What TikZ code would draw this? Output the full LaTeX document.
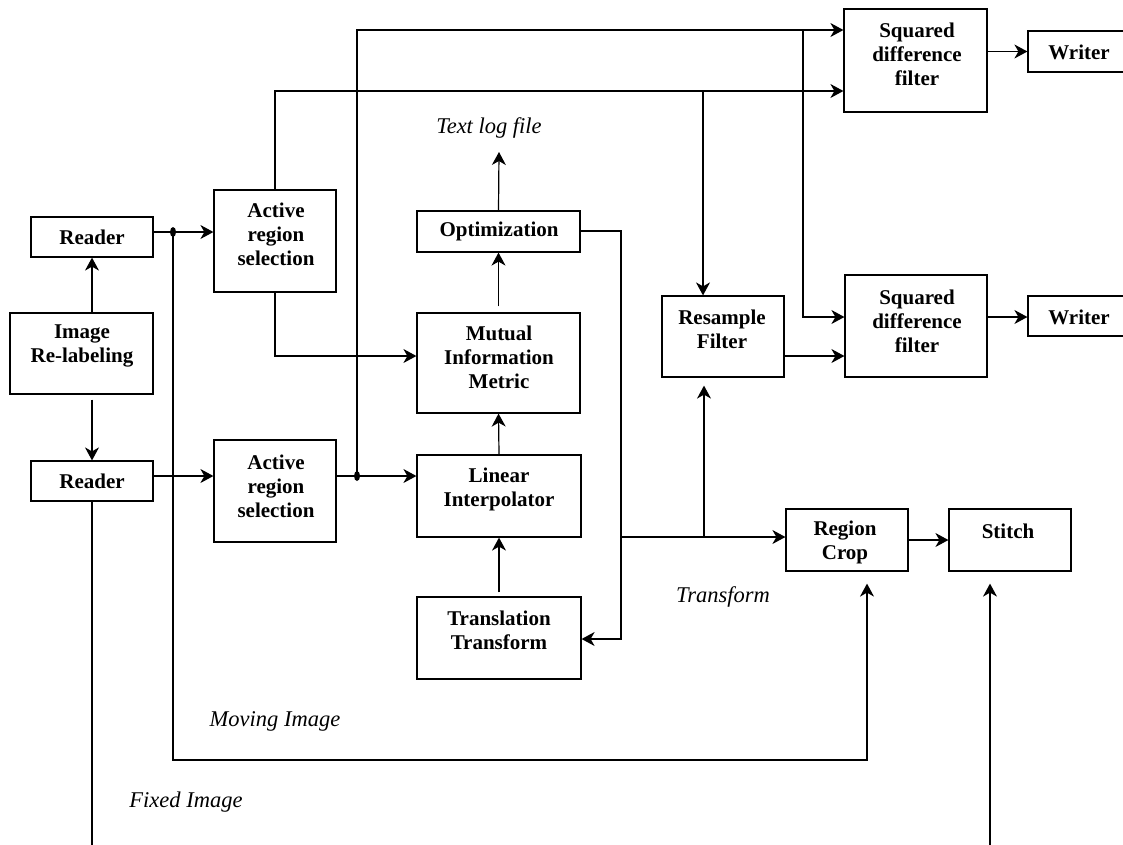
\documentclass[tikz,border=0pt]{standalone}
\usepackage{fontspec}
\setmainfont{Liberation Serif}
\usetikzlibrary{arrows.meta}
\begin{document}
\begin{tikzpicture}[x=1pt,y=-1pt,
  box/.style={draw,line width=1.2pt,rectangle,inner sep=0pt},
  lbl/.style={font=\fontsize{21}{24}\selectfont\bfseries,align=center,inner sep=0pt},
  note/.style={font=\fontsize{22.5}{26}\selectfont\itshape,inner sep=0pt},
  conn/.style={line width=1.2pt},
  arr/.style={conn,-{Stealth[length=13pt,width=14pt,inset=4pt]}}]
\useasboundingbox (0,0) rectangle (1123,844);
\clip (0,0) rectangle (1123,844);
% boxes
\node[box,minimum width=122pt,minimum height=40pt] (reader1) at (92,237) {};
\node[box,minimum width=143pt,minimum height=81pt] (relabel) at (81.5,353.5) {};
\node[box,minimum width=122pt,minimum height=40pt] (reader2) at (92,481) {};
\node[box,minimum width=122pt,minimum height=102pt] (active1) at (275,241) {};
\node[box,minimum width=122pt,minimum height=102pt] (active2) at (275,491) {};
\node[box,minimum width=163pt,minimum height=41pt] (opt) at (498.5,231.5) {};
\node[box,minimum width=163pt,minimum height=100pt] (mutual) at (498.5,363) {};
\node[box,minimum width=164pt,minimum height=82pt] (linear) at (499,496) {};
\node[box,minimum width=164pt,minimum height=82pt] (trans) at (499,638) {};
\node[box,minimum width=122pt,minimum height=81pt] (resample) at (723,336.5) {};
\node[box,minimum width=143pt,minimum height=103pt] (sq1) at (915.5,60.5) {};
\node[box,minimum width=142pt,minimum height=102pt] (sq2) at (916,326) {};
\node[box,minimum width=102pt,minimum height=41pt] (writer1) at (1079,51.5) {};
\node[box,minimum width=102pt,minimum height=40pt] (writer2) at (1079,316) {};
\node[box,minimum width=122pt,minimum height=62pt] (crop) at (847,540) {};
\node[box,minimum width=122pt,minimum height=62pt] (stitch) at (1010,540) {};
% box texts
\node[lbl] (reader1t) at (92,237) {Reader};
\node[lbl] (relabelt) at (82,346) {Image\\Re-labeling};
\node[lbl] (reader2t) at (92,481) {Reader};
\node[lbl] (active1t) at (276,234) {Active\\region\\selection};
\node[lbl] (active2t) at (276,486) {Active\\region\\selection};
\node[lbl] (optt) at (499,231) {Optimization};
\node[lbl] (mutualt) at (499,357) {Mutual\\Information\\Metric};
\node[lbl] (lineart) at (499,489) {Linear\\Interpolator};
\node[lbl] (transt) at (499,630) {Translation\\Transform};
\node[lbl] (resamplet) at (722,329) {Resample\\Filter};
\node[lbl] (sq1t) at (917,54) {Squared\\difference\\filter};
\node[lbl] (sq2t) at (917,321) {Squared\\difference\\filter};
\node[lbl] (writer1t) at (1079,52) {Writer};
\node[lbl] (writer2t) at (1079,317) {Writer};
\node[lbl] (cropt) at (845,542) {Region\\Crop};
\node[lbl] (stitcht) at (1008,531) {Stitch};
% notes
\node[note] (logt) at (489,128) {Text log file};
\node[note] (transformt) at (723,597) {Transform};
\node[note] (movingt) at (275,721) {Moving Image};
\node[note] (fixedt) at (186,802) {Fixed Image};
% helper coordinates
\coordinate (j1) at (173,232);
\coordinate (j2) at (357,476);
\coordinate (mv) at (867,760);
\coordinate (fixedend) at (92,846);
\coordinate (top1) at (357,30);
\coordinate (top2) at (275,91);
\coordinate (a1m) at (275,356);
\coordinate (rs) at (703,91);
\coordinate (v2) at (803,30);
\coordinate (v2b) at (803,317);
\coordinate (rsy) at (784,356);
\coordinate (logend) at (499,152);
\coordinate (fb) at (621,231);
\coordinate (fbl) at (621,639);
\coordinate (tr) at (621,537);
\coordinate (up) at (704,537);
\coordinate (stin) at (990,846);
% connectors
\draw[arr] (reader1.south |- relabel.north) -- (reader1.south);
\draw[arr,shorten <=5pt] (reader2.north |- relabel.south) -- (reader2.north);
\draw[arr] (reader1.east |- j1) -- (active1.west |- j1);
\draw[arr,shorten >=12pt] (j1) |- (mv) -- (mv |- crop.south);
\draw[arr] (reader2.east |- j2) -- (active2.west |- j2);
\draw[conn] (reader2.south) -- (fixedend);
\draw[arr] (active1.north) -- (top2) -- (top2 -| sq1.west);
\draw[arr] (active1.south) -- (a1m) -- (a1m -| mutual.west);
\draw[arr] (active2.east |- j2) -- (linear.west |- j2);
\draw[arr] (j2) -- (top1) -- (top1 -| sq1.west);
\draw[arr] (rs) -- (rs |- resample.north);
\draw[arr] (v2) -- (v2b) -- (v2b -| sq2.west);
\draw[arr] (resample.east |- rsy) -- (rsy -| sq2.west);
\draw[arr] (sq1.east |- writer1.west) -- (writer1.west);
\draw[arr] (sq2.east |- v2b) -- (writer2.west |- v2b);
\draw[arr] (linear.north) -- (mutual.south);
\draw[arr,shorten <=6pt] (mutual.north) -- (opt.south);
\draw[arr] (opt.north) -- (logend);
\draw[arr,shorten <=4pt] (trans.north) -- (linear.south);
\draw[arr] (opt.east |- fb) -- (fb) -- (fbl) -- (trans.east |- fbl);
\draw[arr] (tr) -- (tr -| crop.west);
\draw[arr,shorten >=8pt] (up) -- (up |- resample.south);
\draw[arr] (crop.east) -- (stitch.west);
\draw[arr,shorten >=12pt] (stin) -- (stin |- stitch.south);
% junction dots
\fill (j1) ellipse [x radius=3pt, y radius=5pt];
\fill (j2) ellipse [x radius=3pt, y radius=5pt];
\end{tikzpicture}
\end{document}
